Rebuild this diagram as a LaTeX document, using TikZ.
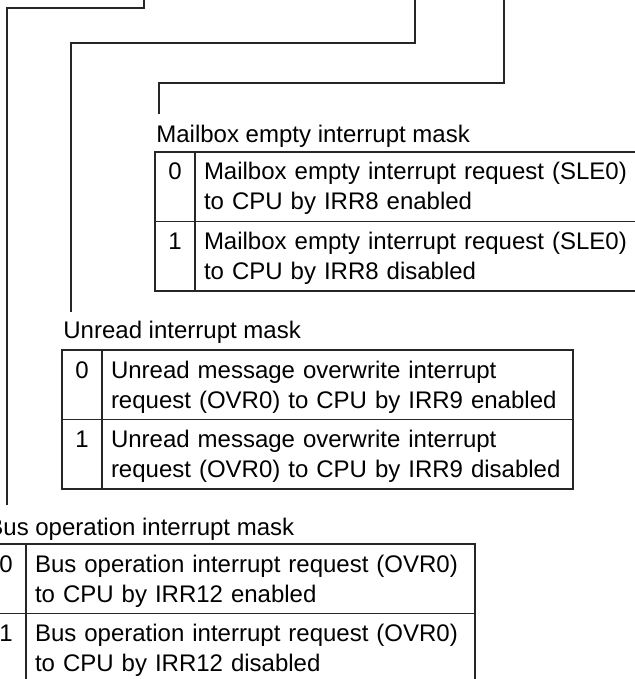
\documentclass[tikz,border=0pt]{standalone}
\usepackage{fontspec}
\setmainfont{Liberation Sans}
\usetikzlibrary{positioning}
\tikzset{
  bitline/.style  ={draw=black!85, line width=0.6pt},
  cellbox/.style  ={draw=black!85, line width=0.6pt, outer sep=0pt, inner ysep=0pt,
                    minimum height=34.75pt, text height=14pt, text depth=20.75pt},
  numcell/.style  ={cellbox, anchor=north west, minimum width=20pt, inner xsep=0pt},
  desccell/.style ={cellbox, inner xsep=4.5pt, text width=#1-9pt, align=left},
  masktitle/.style={anchor=base west, inner sep=0pt},
}

\begin{document}
\begin{tikzpicture}[x=0.5pt, y=-0.5pt, every node/.style={font=\fontsize{12pt}{15pt}\selectfont}]
  \useasboundingbox (0,0) rectangle (635,679);
  \clip (0,0) rectangle (635,679);

  \node[masktitle] (MBT) at (156,143) {Mailbox empty interrupt mask};
  \node[numcell] (MBn0) at (155,152) {0};
  \node[desccell=250pt, right=0pt of MBn0] (MBd0) {Mailbox empty interrupt request (SLE0)\\to CPU by IRR8 enabled};
  \node[numcell, below=0pt of MBn0] (MBn1) {1};
  \node[desccell=250pt, right=0pt of MBn1] (MBd1) {Mailbox empty interrupt request (SLE0)\\to CPU by IRR8 disabled};

  \node[masktitle] (URT) at (63,338) {Unread interrupt mask};
  \node[numcell] (URn0) at (62,350) {0};
  \node[desccell=235.5pt, right=0pt of URn0] (URd0) {Unread message overwrite interrupt\\request (OVR0) to CPU by IRR9 enabled};
  \node[numcell, below=0pt of URn0] (URn1) {1};
  \node[desccell=235.5pt, right=0pt of URn1] (URd1) {Unread message overwrite interrupt\\request (OVR0) to CPU by IRR9 disabled};

  \node[masktitle] (BOT) at (-13,535) {Bus operation interrupt mask};
  \node[numcell] (BOn0) at (-14,544) {0};
  \node[desccell=224.5pt, right=0pt of BOn0] (BOd0) {Bus operation interrupt request (OVR0)\\to CPU by IRR12 enabled};
  \node[numcell, below=0pt of BOn0] (BOn1) {1};
  \node[desccell=224.5pt, right=0pt of BOn1] (BOd1) {Bus operation interrupt request (OVR0)\\to CPU by IRR12 disabled};

  \coordinate (BObit) at (144,0);
  \coordinate (URbit) at (415,0);
  \coordinate (MBbit) at (504,0);
  \coordinate (BOend) at (7,505);
  \coordinate (URend) at (71,312);
  \coordinate (MBend) at (159,114);
  \draw[bitline] (BObit) -- ++(0,8)  -| (BOend);
  \draw[bitline] (URbit) -- ++(0,43) -| (URend);
  \draw[bitline] (MBbit) -- ++(0,83) -| (MBend);
\end{tikzpicture}
\end{document}
